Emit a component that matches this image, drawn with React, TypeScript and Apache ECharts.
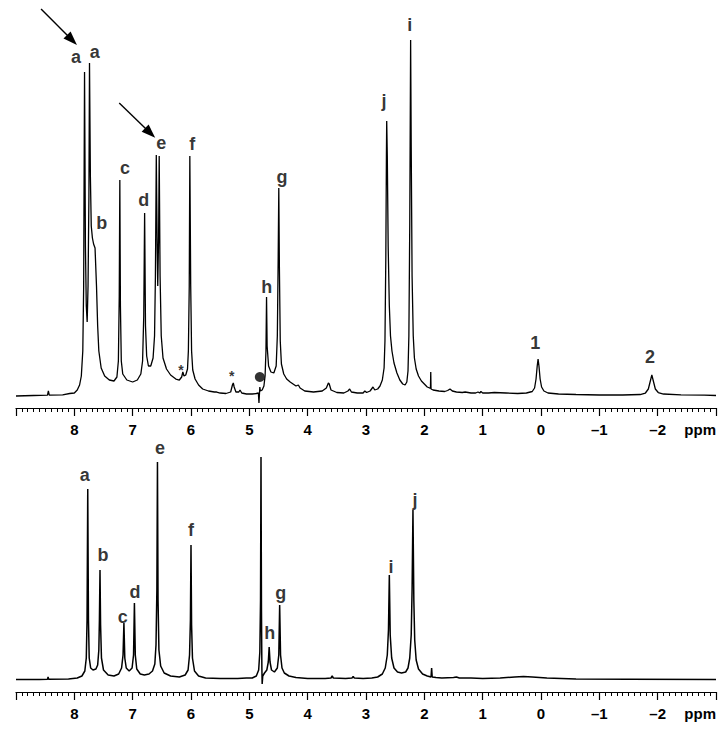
import React, { useEffect, useRef } from "react";
import * as echarts from "echarts";

// ---------- data (ppm, intensity in arbitrary units) ----------
const TOP_SPECTRUM: [number, number][] = [
  [9.0,0],[8.7,0.5],[8.46,0.8],[8.445,5],[8.43,0.8],[8.2,1.2],[8.08,2.5],[8.0,3],[7.95,6],[7.91,11],[7.88,20],[7.855,45],[7.84,110],[7.825,324],[7.81,150],[7.795,90],[7.78,74],[7.765,110],[7.75,200],[7.74,333],[7.725,220],[7.71,170],[7.69,158],[7.67,152],[7.645,148],[7.62,110],[7.6,70],[7.58,45],[7.54,28],[7.48,20],[7.4,16],[7.32,15],[7.27,19],[7.245,35],[7.23,100],[7.22,216],[7.21,90],[7.195,35],[7.17,22],[7.1,16],[7.0,14],[6.92,16],[6.86,22],[6.83,35],[6.81,80],[6.795,183],[6.78,70],[6.76,40],[6.73,30],[6.69,30],[6.65,38],[6.625,60],[6.61,120],[6.595,241],[6.58,150],[6.57,110],[6.555,160],[6.545,240],[6.53,120],[6.51,60],[6.48,38],[6.42,27],[6.35,21],[6.26,17],[6.2,16],[6.16,19],[6.14,24],[6.12,20],[6.09,21],[6.06,27],[6.045,45],[6.03,110],[6.02,240],[6.005,110],[5.99,45],[5.97,26],[5.93,17],[5.87,11],[5.8,7],[5.7,5],[5.6,4],[5.56,4],[5.5,3],[5.4,2.5],[5.32,4],[5.29,11],[5.275,13],[5.26,9],[5.23,4],[5.18,4],[5.16,6],[5.13,3],[5.05,2],[4.95,2],[4.88,2.5],[4.845,3],[4.835,-7],[4.825,-7],[4.82,9],[4.81,5],[4.78,6],[4.75,10],[4.73,20],[4.715,45],[4.705,99],[4.695,50],[4.67,30],[4.63,24],[4.58,23],[4.54,30],[4.52,60],[4.505,140],[4.495,208],[4.485,130],[4.47,55],[4.45,32],[4.41,22],[4.36,17],[4.3,14],[4.25,12],[4.2,10],[4.16,11],[4.13,8],[4.05,5],[3.9,4],[3.75,5],[3.68,8],[3.645,13],[3.63,12],[3.6,6],[3.5,3.5],[3.38,3],[3.31,5],[3.28,7],[3.25,4],[3.15,3],[3.05,3],[3.02,5],[2.99,3.5],[2.93,5],[2.88,9],[2.85,6],[2.8,7],[2.76,10],[2.72,16],[2.69,28],[2.675,55],[2.66,140],[2.65,240],[2.645,275],[2.635,240],[2.62,150],[2.6,90],[2.58,60],[2.555,45],[2.52,33],[2.47,23],[2.42,16],[2.37,12],[2.33,11],[2.3,14],[2.28,25],[2.265,60],[2.25,170],[2.235,356],[2.225,250],[2.21,120],[2.19,60],[2.17,38],[2.14,27],[2.1,20],[2.05,15],[2.0,12],[1.95,9],[1.91,8],[1.895,8],[1.89,24],[1.885,7],[1.85,6],[1.75,5],[1.65,4.5],[1.6,5.5],[1.56,7],[1.52,5],[1.45,4],[1.35,3.5],[1.3,4],[1.2,3],[1.12,3],[1.08,4],[1.05,3],[1.03,4.5],[1.0,3],[0.9,3],[0.8,3.5],[0.6,3],[0.4,2.5],[0.25,3],[0.15,4.5],[0.11,8],[0.085,17],[0.065,30],[0.05,37],[0.035,30],[0.015,17],[-0.01,9],[-0.05,5],[-0.12,3],[-0.3,2],[-0.6,1.5],[-1.0,1],[-1.4,1],[-1.7,1.5],[-1.79,3],[-1.84,7],[-1.87,14],[-1.9,21],[-1.93,14],[-1.96,7],[-2.01,3.5],[-2.1,2],[-2.4,1.2],[-2.8,0.8],[-3.0,0.5]
];

const BOTTOM_SPECTRUM: [number, number][] = [
  [9.0,0.5],[8.6,0.5],[8.46,0.8],[8.45,3],[8.44,0.8],[8.1,1],[7.95,2],[7.87,4],[7.82,9],[7.795,22],[7.782,60],[7.77,191],[7.758,60],[7.745,22],[7.72,12],[7.68,10],[7.63,11],[7.6,15],[7.58,30],[7.57,60],[7.56,110],[7.55,55],[7.535,22],[7.5,10],[7.42,5],[7.32,4],[7.24,6],[7.19,12],[7.165,25],[7.15,57],[7.135,22],[7.11,12],[7.06,9],[7.01,12],[6.985,25],[6.97,77],[6.955,25],[6.93,11],[6.87,6],[6.8,5],[6.72,6],[6.66,9],[6.62,16],[6.6,35],[6.585,90],[6.575,218],[6.565,80],[6.55,30],[6.52,14],[6.46,7],[6.35,4],[6.2,3],[6.1,5],[6.05,10],[6.025,25],[6.01,60],[6.0,135],[5.99,55],[5.975,22],[5.94,9],[5.87,4],[5.75,2],[5.5,1.5],[5.2,1.5],[5.05,2],[4.95,2],[4.88,4],[4.84,10],[4.82,28],[4.808,80],[4.8,223],[4.792,70],[4.785,12],[4.78,-4],[4.77,4],[4.74,7],[4.7,10],[4.675,18],[4.66,33],[4.645,18],[4.62,10],[4.57,8],[4.52,12],[4.495,25],[4.48,75],[4.465,25],[4.44,12],[4.4,7],[4.32,4],[4.2,2.5],[4.0,1.5],[3.7,1.5],[3.6,2],[3.58,4],[3.56,2],[3.35,1.5],[3.24,2],[3.22,3.5],[3.2,2],[3.05,1.5],[2.9,2],[2.8,3],[2.72,6],[2.67,12],[2.635,25],[2.615,50],[2.6,105],[2.585,45],[2.56,22],[2.52,12],[2.46,8],[2.39,7],[2.32,8],[2.28,12],[2.25,22],[2.225,45],[2.21,90],[2.195,170],[2.18,80],[2.165,40],[2.14,20],[2.1,11],[2.03,6],[1.95,4],[1.885,3],[1.875,12],[1.865,3],[1.8,2.5],[1.7,2],[1.5,2.5],[1.45,3],[1.4,2],[1.2,2],[1.0,1.5],[0.7,2],[0.45,3],[0.3,3.5],[0.15,3],[-0.1,2],[-0.6,1],[-1.5,0.8],[-3.0,0.5]
];

// peak labels: [text, ppm, intensity]
const TOP_LABELS: [string, number, number][] = [
  ["a", 7.97, 339], ["a", 7.65, 344], ["b", 7.53, 173], ["c", 7.13, 228],
  ["d", 6.81, 196], ["e", 6.51, 253], ["f", 5.98, 252], ["g", 4.44, 219],
  ["h", 4.70, 109], ["j", 2.69, 295], ["i", 2.25, 371], ["1", 0.10, 53], ["2", -1.87, 39]
];
const TOP_STARS: [string, number, number][] = [["*", 6.17, 26], ["*", 5.30, 20]];
const TOP_DOT: [number, number][] = [[4.82, 19]];
const TOP_ARROWS: [number, number, number, number][] = [
  [8.57, 387, 8.04, 356],
  [7.23, 293, 6.70, 263],
];

const BOTTOM_LABELS: [string, number, number][] = [
  ["a", 7.82, 205], ["b", 7.51, 125], ["c", 7.17, 63], ["d", 6.96, 88],
  ["e", 6.53, 232], ["f", 6.00, 150], ["h", 4.65, 47], ["g", 4.46, 87],
  ["i", 2.57, 113], ["j", 2.16, 180]
];

const PPM_MIN = -3;
const PPM_MAX = 9;
const LABELED_TICKS = [8, 7, 6, 5, 4, 3, 2, 1, 0, -1, -2];
const UNIT = "ppm";

const FONT = '"Liberation Sans", Arial, Helvetica, sans-serif';

// layout
const GRID_LEFT = 16;
const GRID_WIDTH = 700;
const TOP_GRID = { top: 0, height: 408 };
const BOTTOM_GRID = { top: 440, height: 252 };
const LABEL_MARGIN = 14;
const TICK_FONT = 15;

function tickLabel(v: number): string {
  const r = Math.round(v);
  if (!LABELED_TICKS.includes(r) || Math.abs(v - r) > 1e-6) return "";
  return r < 0 ? "\u2013" + String(-r) : String(r);
}

function ppmAxis(gridIndex: number) {
  return {
    type: "value",
    gridIndex,
    min: PPM_MIN,
    max: PPM_MAX,
    interval: 1,
    inverse: true,
    axisLine: { show: true, onZero: false, lineStyle: { color: "#000", width: 1.2 } },
    axisTick: { show: true, length: 8, lineStyle: { color: "#000", width: 1.2 } },
    minorTick: { show: true, splitNumber: 10, length: 4, lineStyle: { color: "#000", width: 1 } },
    axisLabel: {
      show: true,
      margin: LABEL_MARGIN,
      color: "#000",
      fontFamily: FONT,
      fontWeight: "bold",
      fontSize: TICK_FONT,
      formatter: tickLabel,
    },
    splitLine: { show: false },
    minorSplitLine: { show: false },
  };
}

function labelSeries(items: [string, number, number][], idx: number, size: number, extra: any = {}) {
  return {
    type: "scatter",
    xAxisIndex: idx,
    yAxisIndex: idx,
    symbolSize: 1,
    silent: true,
    itemStyle: { color: "rgba(0,0,0,0)" },
    data: items.map(([t, x, y]) => ({ name: t, value: [x, y] })),
    label: {
      show: true,
      position: "inside",
      formatter: "{b}",
      color: "#000",
      fontFamily: FONT,
      fontWeight: "bold",
      fontSize: size,
    },
    ...extra,
  };
}

function unitText(axisY: number) {
  return {
    type: "text",
    x: GRID_LEFT + GRID_WIDTH,
    y: axisY + LABEL_MARGIN,
    silent: true,
    style: {
      text: UNIT,
      fill: "#000",
      font: `bold ${TICK_FONT}px ${FONT}`,
      align: "right",
      verticalAlign: "top",
      textAlign: "right",
      textVerticalAlign: "top",
    },
  };
}

export default function App() {
  const ref = useRef<HTMLDivElement>(null);
  useEffect(() => {
    document.body.style.margin = "0";
    document.body.style.background = "#fff";
    if (!ref.current) return;
    const chart = echarts.init(ref.current, undefined, { renderer: "svg" });
    chart.setOption({
      animation: false,
      backgroundColor: "#fff",
      grid: [
        { left: GRID_LEFT, width: GRID_WIDTH, ...TOP_GRID },
        { left: GRID_LEFT, width: GRID_WIDTH, ...BOTTOM_GRID },
      ],
      xAxis: [ppmAxis(0), ppmAxis(1)],
      yAxis: [
        { type: "value", gridIndex: 0, min: -12, max: 396, show: false },
        { type: "value", gridIndex: 1, min: -12, max: 240, show: false },
      ],
      graphic: [
        unitText(TOP_GRID.top + TOP_GRID.height),
        unitText(BOTTOM_GRID.top + BOTTOM_GRID.height),
      ],
      series: [
        {
          type: "line",
          xAxisIndex: 0,
          yAxisIndex: 0,
          data: TOP_SPECTRUM,
          showSymbol: false,
          symbol: "none",
          silent: true,
          lineStyle: { color: "#000", width: 1.3 },
        },
        {
          type: "line",
          xAxisIndex: 1,
          yAxisIndex: 1,
          data: BOTTOM_SPECTRUM,
          showSymbol: false,
          symbol: "none",
          silent: true,
          lineStyle: { color: "#000", width: 1.5 },
        },
        labelSeries(TOP_LABELS, 0, 18, {
          markLine: {
            silent: true,
            symbol: ["none", "path://M5,0L10,16L0,16Z"],
            symbolSize: [10, 14],
            label: { show: false },
            lineStyle: { color: "#000", width: 1.4, type: "solid" },
            data: TOP_ARROWS.map(([x1, y1, x2, y2]) => [
              { coord: [x1, y1] },
              { coord: [x2, y2] },
            ]),
          },
        }),
        labelSeries(TOP_STARS, 0, 14),
        {
          type: "scatter",
          xAxisIndex: 0,
          yAxisIndex: 0,
          symbol: "circle",
          symbolSize: 10,
          silent: true,
          itemStyle: { color: "#000" },
          data: TOP_DOT,
        },
        labelSeries(BOTTOM_LABELS, 1, 18),
      ],
    });
    return () => chart.dispose();
  }, []);
  return <div ref={ref} style={{ width: 725, height: 742 }} />;
}
